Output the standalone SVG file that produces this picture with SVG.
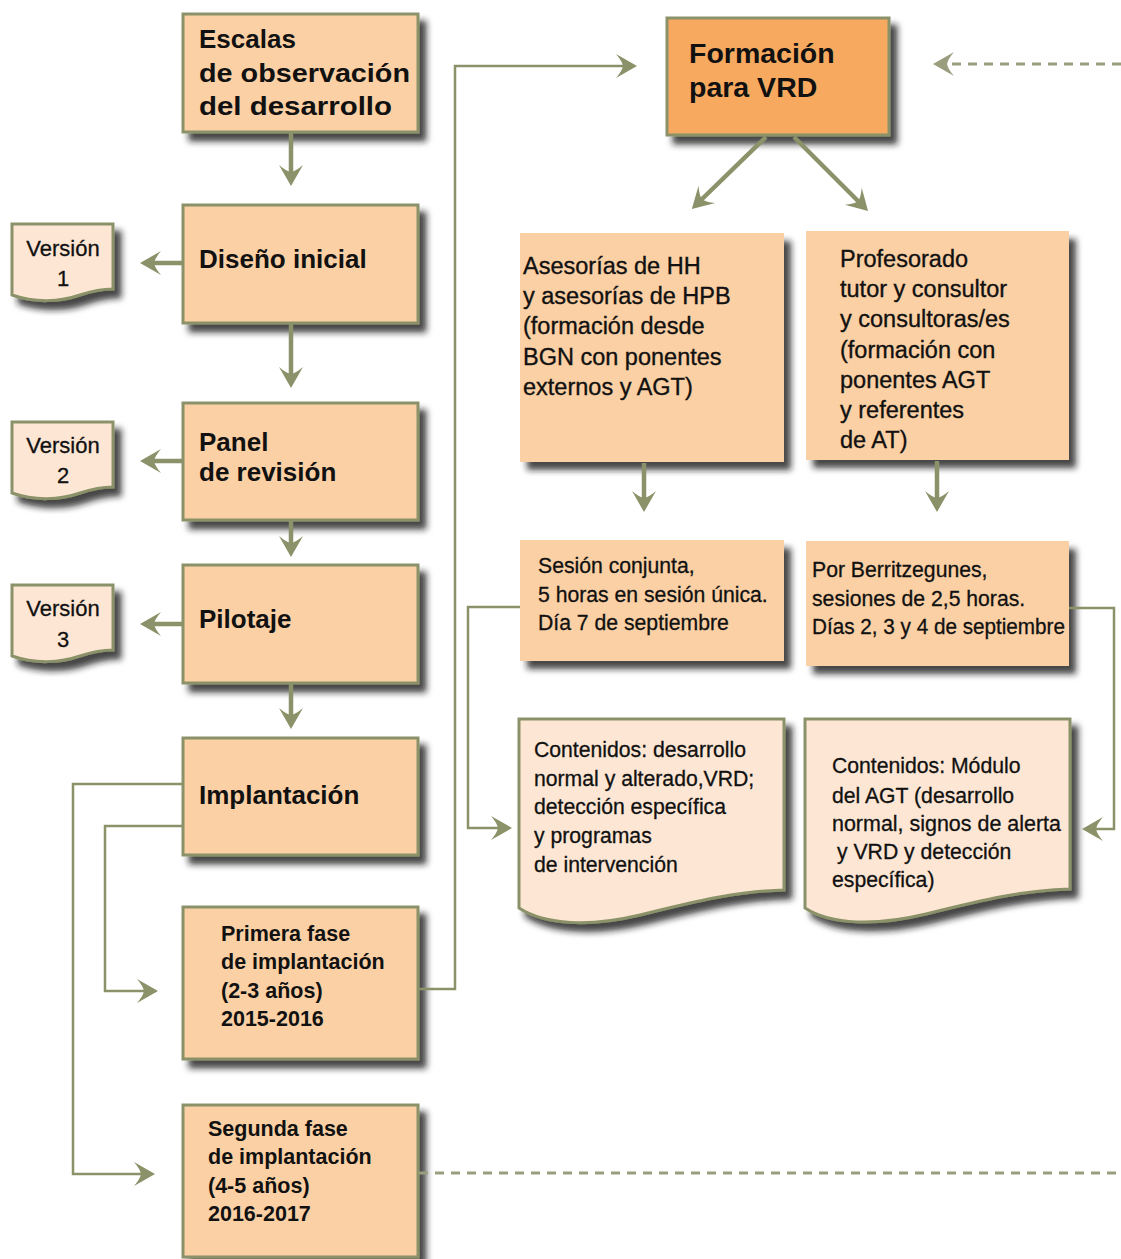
<svg xmlns="http://www.w3.org/2000/svg" width="1121" height="1259" viewBox="0 0 1121 1259">
<defs>
<filter id="sh" x="-10%" y="-10%" width="130%" height="130%">
<feDropShadow dx="7" dy="8" stdDeviation="3" flood-color="#1a1a1a" flood-opacity="0.8"/>
</filter>
<marker id="ah" viewBox="-14 -13 26 26" markerWidth="26" markerHeight="26" refX="0" refY="0" orient="auto" markerUnits="userSpaceOnUse">
<path d="M10,0 L-11,-12 Q-5,-5 -4,0 Q-5,5 -11,12 Z" fill="#8B9168"/>
</marker>
<marker id="ahd" viewBox="-14 -13 26 26" markerWidth="26" markerHeight="26" refX="0" refY="0" orient="auto" markerUnits="userSpaceOnUse">
<path d="M10,0 L-11,-12 Q-5,-5 -4,0 Q-5,5 -11,12 Z" fill="#9A9E7E"/>
</marker>
<style>
.box{fill:#FBD0A4;stroke:#8B9168;stroke-width:3;filter:url(#sh)}
.plain{fill:#FBD0A4;filter:url(#sh)}
.hot{fill:#F7A95F;stroke:#8B9168;stroke-width:3;filter:url(#sh)}
.doc{fill:#FDE7D4;stroke:#8B9168;stroke-width:3;filter:url(#sh)}
.h{font-family:"Liberation Sans",Arial,sans-serif;font-weight:bold;font-size:26px;fill:#111}
.m{font-family:"Liberation Sans",Arial,sans-serif;font-weight:bold;font-size:21.5px;fill:#111}
.t{font-family:"Liberation Sans",Arial,sans-serif;font-size:23.5px;fill:#111;stroke:#111;stroke-width:0.35}
.s{font-family:"Liberation Sans",Arial,sans-serif;font-size:21.2px;fill:#111;stroke:#111;stroke-width:0.3}
.v{font-family:"Liberation Sans",Arial,sans-serif;font-size:22px;fill:#111;text-anchor:middle;stroke:#111;stroke-width:0.3}
.thick{fill:none;stroke:#8B9168;stroke-width:4.5;marker-end:url(#ah)}
.thin{fill:none;stroke:#8B9168;stroke-width:2.5;marker-end:url(#ah)}
.dash{fill:none;stroke:#9A9E7E;stroke-width:3;stroke-dasharray:9 7}
</style>
</defs>

<g id="nodes">
<g id="escalas">
<rect class="box" x="183" y="14" width="235" height="118"/>
<text class="h" x="199" y="48">Escalas</text>
<text class="h" x="199" y="82" textLength="211" lengthAdjust="spacingAndGlyphs">de observación</text>
<text class="h" x="199" y="115" textLength="193" lengthAdjust="spacingAndGlyphs">del desarrollo</text>
</g>
<g id="diseno">
<rect class="box" x="183" y="205" width="235" height="118"/>
<text class="h" x="199" y="268">Diseño inicial</text>
</g>
<g id="panel">
<rect class="box" x="183" y="403" width="235" height="117"/>
<text class="h" x="199" y="451">Panel</text>
<text class="h" x="199" y="481">de revisión</text>
</g>
<g id="pilotaje">
<rect class="box" x="183" y="565" width="235" height="118"/>
<text class="h" x="199" y="628">Pilotaje</text>
</g>
<g id="implantacion">
<rect class="box" x="183" y="738" width="235" height="117"/>
<text class="h" x="199" y="804">Implantación</text>
</g>
<g id="primera">
<rect class="box" x="183" y="907" width="235" height="152"/>
<text class="m" x="221" y="941">Primera fase</text>
<text class="m" x="221" y="969">de implantación</text>
<text class="m" x="221" y="998">(2-3 años)</text>
<text class="m" x="221" y="1026">2015-2016</text>
</g>
<g id="segunda">
<rect class="box" x="183" y="1105" width="235" height="152"/>
<text class="m" x="208" y="1136">Segunda fase</text>
<text class="m" x="208" y="1164">de implantación</text>
<text class="m" x="208" y="1193">(4-5 años)</text>
<text class="m" x="208" y="1221">2016-2017</text>
</g>
<g id="version1">
<path class="doc" d="M12,224 H113 V289 C100,289 92,291 80,295 C60,302 35,303 12,295 Z"/>
<text class="v" x="63" y="256">Versión</text>
<text class="v" x="63" y="286">1</text>
</g>
<g id="version2">
<path class="doc" d="M12,422 H113 V487 C100,487 92,489 80,493 C60,500 35,501 12,493 Z"/>
<text class="v" x="63" y="453">Versión</text>
<text class="v" x="63" y="483">2</text>
</g>
<g id="version3">
<path class="doc" d="M12,585 H113 V650 C100,650 92,652 80,656 C60,663 35,664 12,656 Z"/>
<text class="v" x="63" y="616">Versión</text>
<text class="v" x="63" y="647">3</text>
</g>
<g id="formacion">
<rect class="hot" x="667" y="18" width="222" height="117"/>
<text class="h" x="689" y="63" style="font-size:28.5px">Formación</text>
<text class="h" x="689" y="97" style="font-size:28.5px">para VRD</text>
</g>
<g id="asesorias">
<rect class="plain" x="520" y="233" width="264" height="229"/>
<text class="t" x="523" y="274">Asesorías de HH</text>
<text class="t" x="523" y="304">y asesorías de HPB</text>
<text class="t" x="523" y="334">(formación desde</text>
<text class="t" x="523" y="365">BGN con ponentes</text>
<text class="t" x="523" y="395">externos y AGT)</text>
</g>
<g id="profesorado">
<rect class="plain" x="806" y="231" width="263" height="229"/>
<text class="t" x="840" y="267">Profesorado</text>
<text class="t" x="840" y="297">tutor y consultor</text>
<text class="t" x="840" y="327">y consultoras/es</text>
<text class="t" x="840" y="358">(formación con</text>
<text class="t" x="840" y="388">ponentes AGT</text>
<text class="t" x="840" y="418">y referentes</text>
<text class="t" x="840" y="448">de AT)</text>
</g>
<g id="sesion">
<rect class="plain" x="520" y="540" width="264" height="121"/>
<text class="s" x="538" y="573">Sesión conjunta,</text>
<text class="s" x="538" y="602">5 horas en sesión única.</text>
<text class="s" x="538" y="630">Día 7 de septiembre</text>
</g>
<g id="berritz">
<rect class="plain" x="806" y="541" width="263" height="125"/>
<text class="s" x="812" y="577">Por Berritzegunes,</text>
<text class="s" x="812" y="606">sesiones de 2,5 horas.</text>
<text class="s" x="812" y="634" textLength="253" lengthAdjust="spacingAndGlyphs">Días 2, 3 y 4 de septiembre</text>
</g>
<g id="contenidos1">
<path class="doc" d="M519,719 H784 V890 C740,891 700,900 640,915 C590,927 545,925 519,908 Z"/>
<text class="s" x="534" y="757">Contenidos: desarrollo</text>
<text class="s" x="534" y="786">normal y alterado,VRD;</text>
<text class="s" x="534" y="814">detección específica</text>
<text class="s" x="534" y="843">y programas</text>
<text class="s" x="534" y="872">de intervención</text>
</g>
<g id="contenidos2">
<path class="doc" d="M805,719 H1070 V889 C1026,890 986,899 926,914 C876,926 831,925 805,908 Z"/>
<text class="s" x="832" y="773">Contenidos: Módulo</text>
<text class="s" x="832" y="803">del AGT (desarrollo</text>
<text class="s" x="832" y="831" textLength="229" lengthAdjust="spacingAndGlyphs">normal, signos de alerta</text>
<text class="s" x="837" y="859">y VRD y detección</text>
<text class="s" x="832" y="887">específica)</text>
</g>
</g>

<g id="connectors">
<path class="thick" d="M291,133 V176"/>
<path class="thick" d="M291,324 V378"/>
<path class="thick" d="M291,521 V547"/>
<path class="thick" d="M291,684 V719"/>
<path class="thick" d="M183,263 H150"/>
<path class="thick" d="M183,461 H150"/>
<path class="thick" d="M183,624 H150"/>
<path class="thin" d="M183,784 H73 V1174 H145"/>
<path class="thin" d="M183,826 H105 V991 H148"/>
<path class="thin" d="M418,989 H455 V66 H627"/>
<path class="thick" d="M766,137 L699,202"/>
<path class="thick" d="M794,137 L861,204"/>
<path class="thick" d="M644,463 V502"/>
<path class="thick" d="M937,461 V502"/>
<path class="thin" d="M520,607 H468 V828 H502"/>
<path class="thin" d="M1069,608 H1114 V829 H1092"/>
<path class="dash" d="M1121,64 H943" marker-end="url(#ahd)"/>
<path class="dash" d="M419,1173 H1121"/>
</g>
</svg>
